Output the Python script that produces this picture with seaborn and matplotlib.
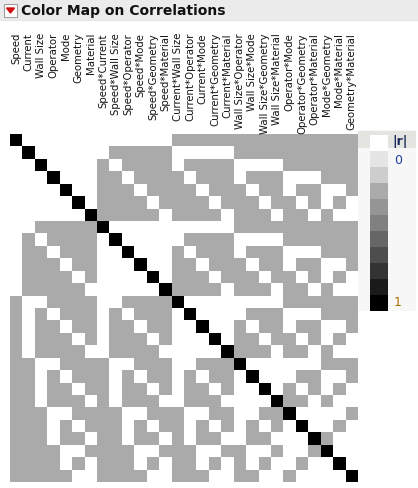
import matplotlib
matplotlib.use("Agg")
import matplotlib.pyplot as plt
import seaborn as sns
import numpy as np
from matplotlib.colors import ListedColormap
from matplotlib.patches import Polygon, Rectangle

terms = ["Speed", "Current", "Wall Size", "Operator", "Mode", "Geometry", "Material",
         "Speed*Current", "Speed*Wall Size", "Speed*Operator", "Speed*Mode", "Speed*Geometry",
         "Speed*Material", "Current*Wall Size", "Current*Operator", "Current*Mode",
         "Current*Geometry", "Current*Material", "Wall Size*Operator", "Wall Size*Mode",
         "Wall Size*Geometry", "Wall Size*Material", "Operator*Mode", "Operator*Geometry",
         "Operator*Material", "Mode*Geometry", "Mode*Material", "Geometry*Material"]

# D = 1 (diagonal), 1 = |r| 0.333, 0 = 0
pattern = [
    "D000000" "000000" "11111" "1111111111",
    "0D00000" "011111" "00000" "1111111111",
    "00D0000" "101111" "01111" "0000111111",
    "000D000" "110111" "10111" "0111000111",
    "0000D00" "111011" "11011" "1011011001",
    "00000D0" "111101" "11101" "1101101010",
    "000000D" "111110" "11110" "1110110100",
    "0011111" "D00000" "00000" "1111111111",
    "0101111" "0D0000" "01111" "0000111111",
    "0110111" "00D000" "10111" "0111000111",
    "0111011" "000D00" "11011" "1011011001",
    "0111101" "0000D0" "11101" "1101101010",
    "0111110" "00000D" "11110" "1110110100",
    "1001111" "001111" "D0000" "0000111111",
    "1010111" "010111" "0D000" "0111000111",
    "1011011" "011011" "00D00" "1011011001",
    "1011101" "011101" "000D0" "1101101010",
    "1011110" "011110" "0000D" "1110110100",
    "1100111" "100111" "00111" "D000000111",
    "1101011" "101011" "01011" "0D00011001",
    "1101101" "101101" "01101" "00D0101010",
    "1101110" "101110" "01110" "000D110100",
    "1110011" "110011" "10011" "0011D00001",
    "1110101" "110101" "10101" "01010D0010",
    "1110110" "110110" "10110" "011000D100",
    "1111001" "111001" "11001" "1001001D00",
    "1111010" "111010" "11010" "10100100D0",
    "1111100" "111100" "11100" "110010000D",
]
r_gray = 0.333
legend_colors = ["#ffffff", "#e5e5e5", "#cdcdcd", "#aaaaaa", "#959595", "#808080",
                 "#666666", "#4d4d4d", "#333333", "#1a1a1a", "#000000"]

mat = np.array([[1.0 if c == "D" else (r_gray if c == "1" else 0.0) for c in row] for row in pattern])

W, H = 418, 489
fig = plt.figure(figsize=(W/100, H/100), dpi=100)
fig.patch.set_facecolor("white")

# header bar
hax = fig.add_axes([0, 1-22/H, 1, 22/H])
hax.set_xlim(0, W); hax.set_ylim(0, 22); hax.axis("off")
hax.add_patch(Rectangle((0, 0), W, 22, color="#ebebeb"))
hax.plot([0, W], [0.5, 0.5], color="#c8c8c8", lw=1)
hax.add_patch(Rectangle((4, 4), 13, 13, facecolor="white", edgecolor="#a0a0a0", lw=0.8))
hax.add_patch(Polygon([[6.5, 13], [14.5, 13], [10.5, 8]], color="#d01010"))
hax.text(21, 11, "Color Map on Correlations", fontsize=10, fontweight="bold",
         va="center", ha="left", color="#111111")

ax = fig.add_axes([10/W, (H-483)/H, 348/W, 348/H])
sns.heatmap(mat, ax=ax, cmap="gray_r", vmin=0, vmax=1, cbar=False,
            xticklabels=False, yticklabels=False, square=False)
for i, t in enumerate(terms):
    ax.text(i + 0.5, -102/12.43, t, rotation=90, ha="center", va="top",
            fontsize=7.3, color="#111111", clip_on=False)

# legend
fig.patches.append(Rectangle((358/W, (H-312)/H), 58/W, 181/H, transform=fig.transFigure,
                             facecolor="#f7f7f7", zorder=-1))
fig.patches.append(Rectangle((358/W, (H-149)/H), 58/W, 17/H, transform=fig.transFigure,
                             facecolor="#e4e4e0", zorder=-1))
lax = fig.add_axes([370/W, (H-312)/H, 18/W, 176/H])
sns.heatmap(np.arange(len(legend_colors)).reshape(-1, 1), ax=lax,
            cmap=ListedColormap(legend_colors), cbar=False,
            xticklabels=False, yticklabels=False)
fig.text(392/W, 1-141/H, "|r|", fontsize=9, fontweight="bold", color="#1a2a5a", va="center")
fig.text(394/W, 1-161/H, "0", fontsize=9, color="#1f3fa0", va="center")
fig.text(394/W, 1-302/H, "1", fontsize=9, color="#b07000", va="center")

fig.savefig("out.png", dpi=100)
